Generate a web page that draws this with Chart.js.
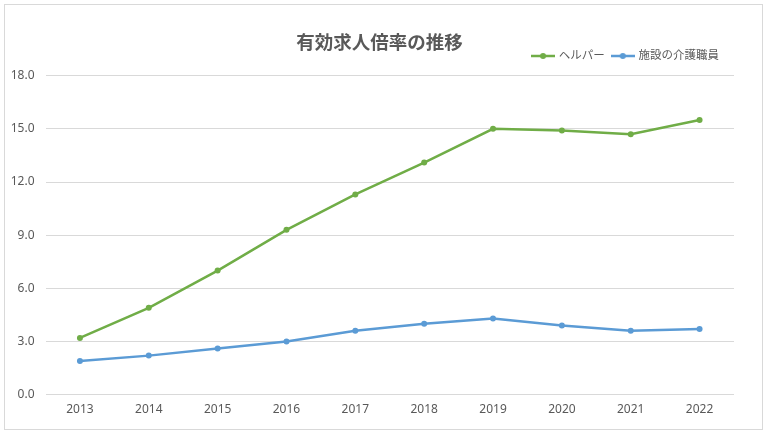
<!DOCTYPE html>
<html>
<head>
<meta charset="utf-8">
<script src="https://cdn.jsdelivr.net/npm/chart.js@4"></script>
<style>
  html, body { margin: 0; padding: 0; background: #fff; }
  #frame {
    position: absolute;
    left: 4px;
    top: 4px;
    width: 757px;
    height: 424px;
    border: 1px solid #d9d9d9;
  }
  #chart { display: block; }
</style>
</head>
<body>
<div id="frame"><canvas id="chart" width="757" height="424"></canvas></div>
<script>
const years = ["2013", "2014", "2015", "2016", "2017", "2018", "2019", "2020", "2021", "2022"];
const helperRatio = [3.2, 4.9, 7.0, 9.3, 11.3, 13.1, 15.0, 14.9, 14.7, 15.5];
const careStaffRatio = [1.9, 2.2, 2.6, 3.0, 3.6, 4.0, 4.3, 3.9, 3.6, 3.7];
const seriesNames = ["ヘルパー", "施設の介護職員"];

const textColor = "#595959";
const gridColor = "#d9d9d9";
const green = "#70ad47";
const blue = "#5b9bd5";
const fontStack = "'Noto Sans', 'Noto Sans CJK JP', sans-serif";

// legend marker: short line with a dot in the middle, like Excel
const makeMarker = (color) => {
  const c = document.createElement("canvas");
  c.width = 24;
  c.height = 8;
  const ctx = c.getContext("2d");
  ctx.strokeStyle = color;
  ctx.lineWidth = 2.5;
  ctx.beginPath();
  ctx.moveTo(0, 4);
  ctx.lineTo(24, 4);
  ctx.stroke();
  ctx.fillStyle = color;
  ctx.beginPath();
  ctx.arc(12, 4, 3, 0, Math.PI * 2);
  ctx.fill();
  return c;
};
const markers = [makeMarker(green), makeMarker(blue)];

// legend gets a bit more room below it; title is centred on the whole
// frame (not just left of the right padding) and the legend sits a bit inward
const headerTweaks = {
  id: "headerTweaks",
  beforeInit(chart) {
    const origFit = chart.legend.fit;
    chart.legend.fit = function () {
      origFit.call(this);
      this.height += 4;
    };
  },
  afterLayout(chart) {
    chart.titleBlock.right += 20;
    chart.legend.right -= 7;
  },
};

new Chart(document.getElementById("chart"), {
  type: "line",
  plugins: [headerTweaks],
  data: {
    labels: years,
    datasets: [
      {
        label: seriesNames[0],
        data: helperRatio,
        borderColor: green,
        backgroundColor: green,
        borderWidth: 2.5,
        pointRadius: 3,
        pointBorderWidth: 0,
        pointHoverRadius: 3,
        tension: 0,
      },
      {
        label: seriesNames[1],
        data: careStaffRatio,
        borderColor: blue,
        backgroundColor: blue,
        borderWidth: 2.5,
        pointRadius: 3,
        pointBorderWidth: 0,
        pointHoverRadius: 3,
        tension: 0,
      },
    ],
  },
  options: {
    responsive: false,
    animation: false,
    layout: {
      padding: { left: 0, right: 28, top: 0, bottom: 12 },
    },
    scales: {
      x: {
        offset: true,
        grid: { display: false },
        border: { display: false },
        ticks: {
          color: textColor,
          font: { family: fontStack, size: 12 },
          padding: 0,
        },
      },
      y: {
        min: 0,
        max: 18,
        afterFit: (scale) => {
          scale.width = 40.5;
        },
        ticks: {
          stepSize: 3,
          color: textColor,
          font: { family: fontStack, size: 12 },
          padding: 11,
          callback: (v) => v.toFixed(1),
        },
        grid: { color: gridColor, drawTicks: false },
        border: { display: false },
      },
    },
    plugins: {
      title: {
        display: true,
        text: "有効求人倍率の推移",
        color: textColor,
        font: { family: fontStack, size: 18.5, weight: "bold" },
        padding: { top: 28, bottom: -13 },
      },
      legend: {
        position: "top",
        align: "end",
        labels: {
          color: textColor,
          font: { family: fontStack, size: 11.5 },
          usePointStyle: true,
          pointStyleWidth: 20,
          padding: 8,
          generateLabels: (chart) =>
            Chart.defaults.plugins.legend.labels
              .generateLabels(chart)
              .map((item, i) => ({ ...item, pointStyle: markers[i] })),
        },
      },
      tooltip: { enabled: false },
    },
  },
});
</script>
</body>
</html>
